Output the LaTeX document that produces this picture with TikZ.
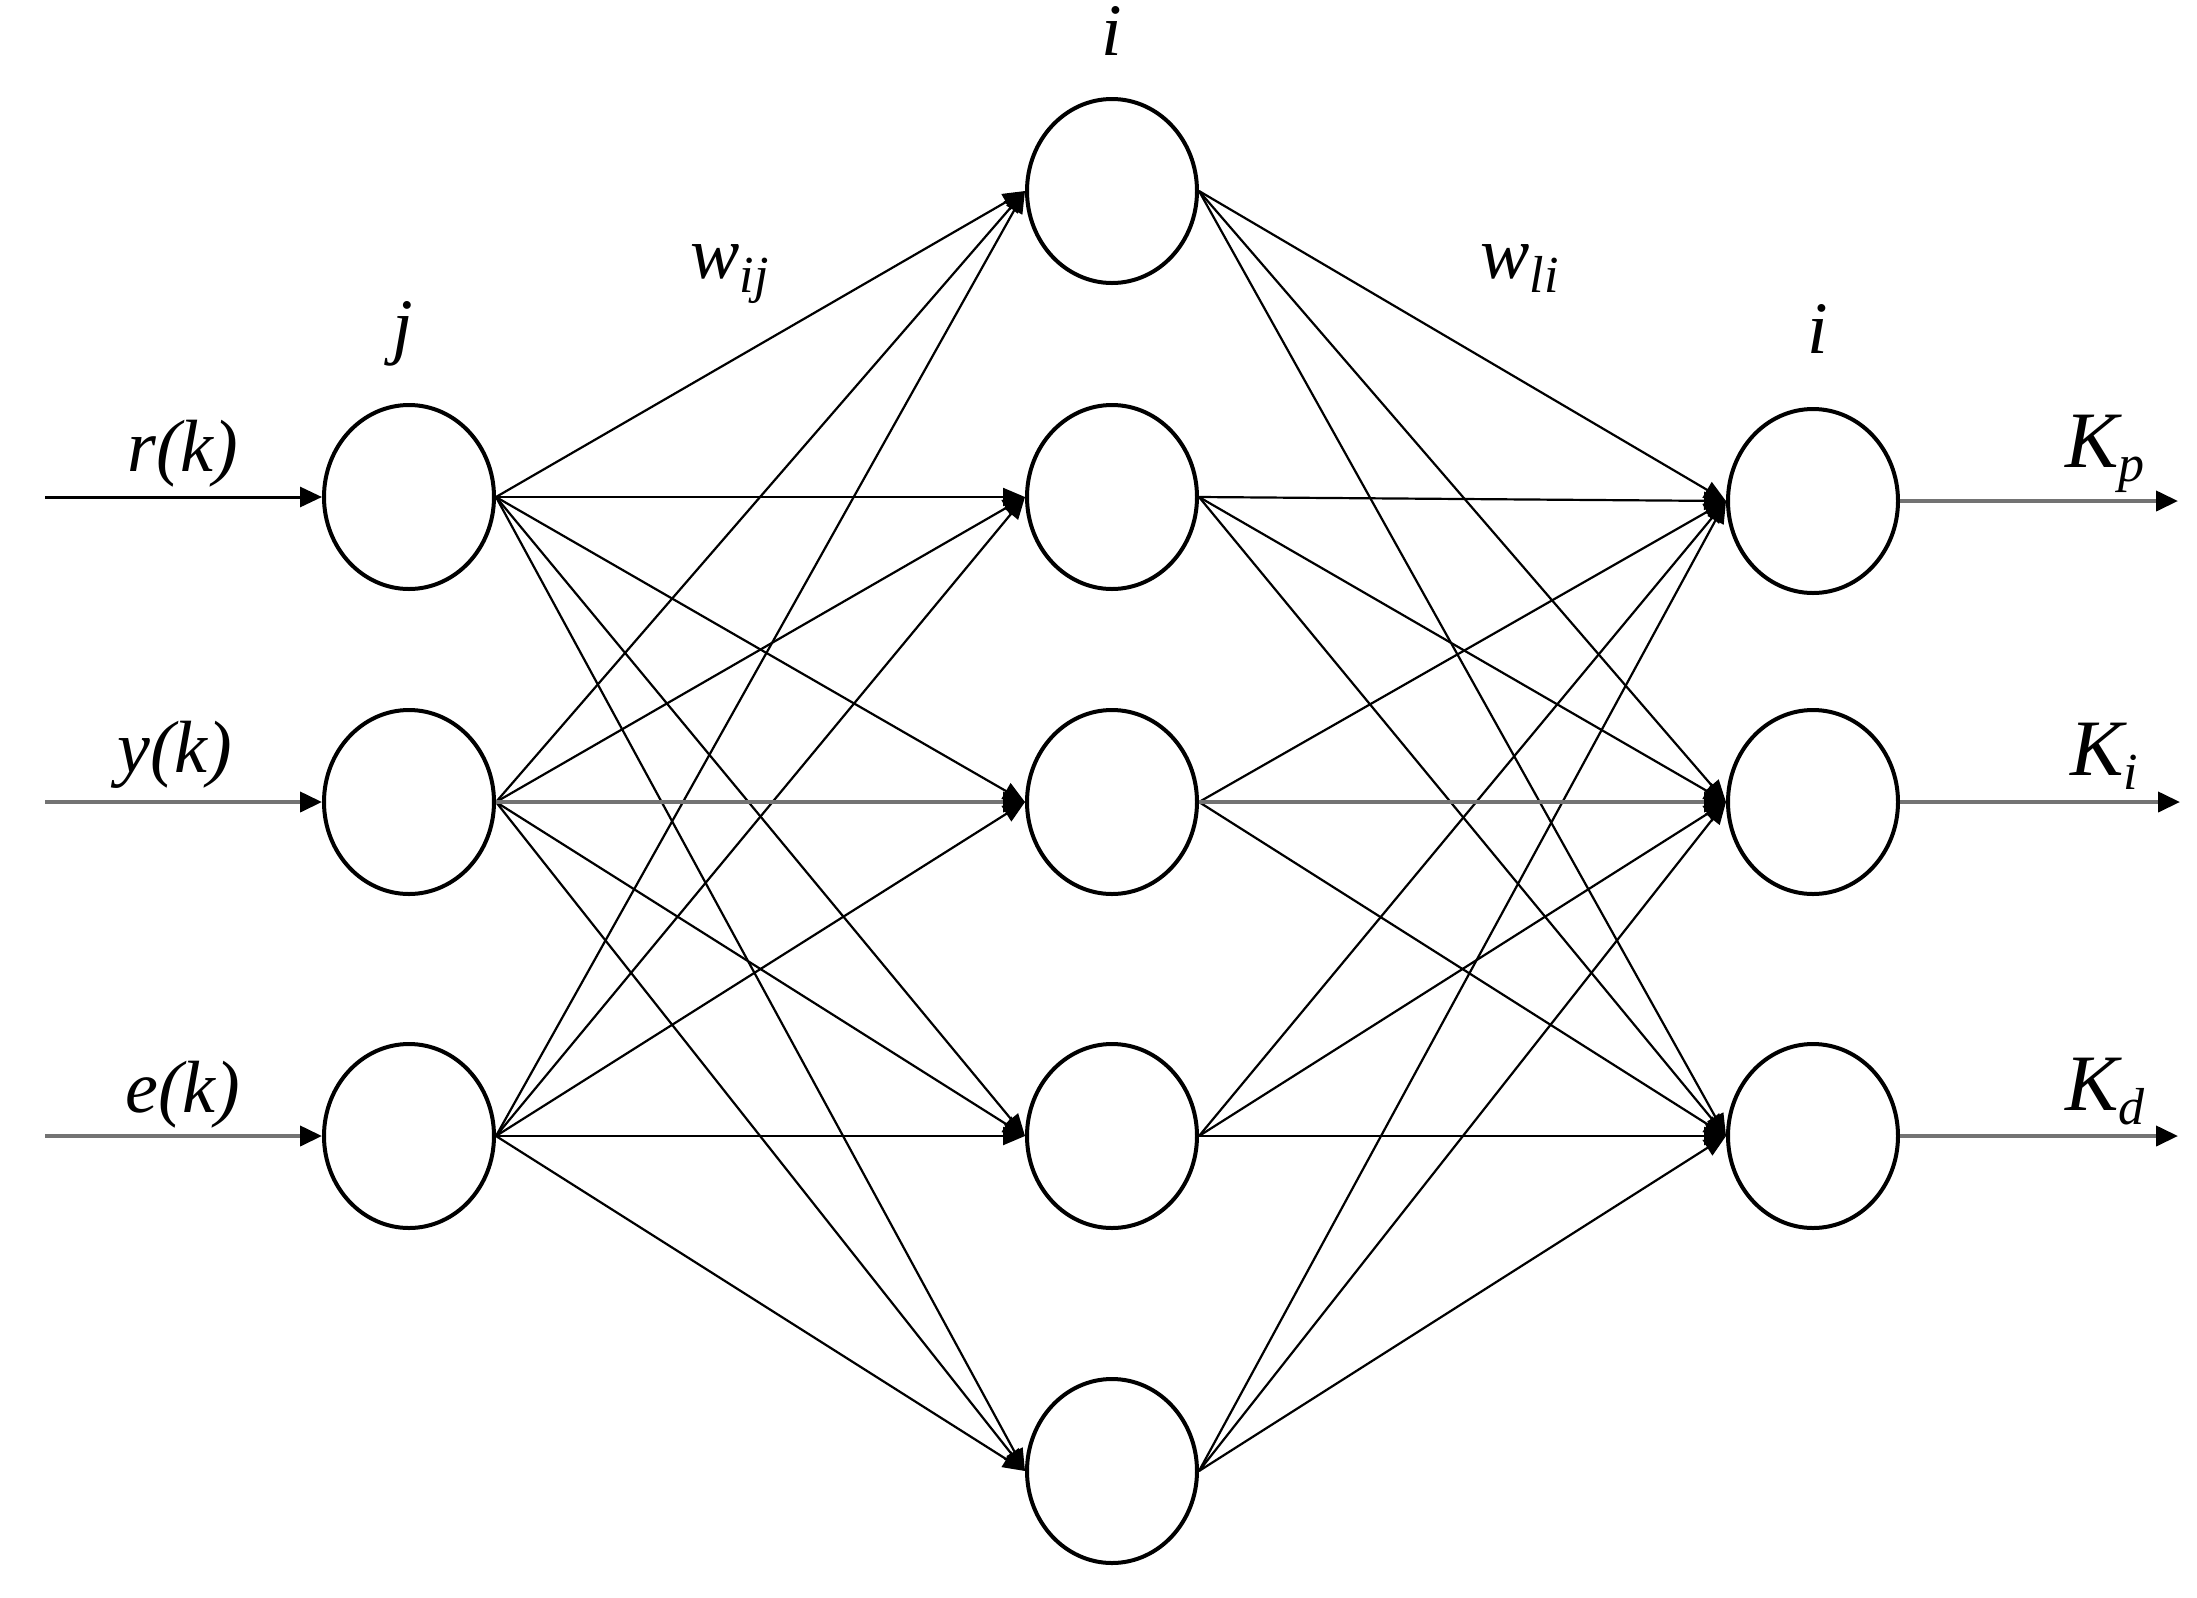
\documentclass[tikz,border=0pt]{standalone}
\usepackage{fontspec}
\setmainfont{Liberation Serif}
\usetikzlibrary{shapes.geometric,arrows.meta}
\newcommand\lowsub[1]{\raisebox{-7pt}{\fontsize{26}{26}\selectfont #1}}
\begin{document}
\begin{tikzpicture}[x=0.5pt,y=-0.5pt,
  neuron/.style={ellipse,draw,line width=2pt,minimum width=85pt,minimum height=92pt,inner sep=0pt},
  conn/.style={line width=1.1pt,-{Triangle[length=11pt,width=9pt]}},
  thickconn/.style={line width=2pt,draw=black!55,-{Triangle[length=11pt,width=10pt,color=black]}},
  inconn/.style={line width=1.5pt,-{Triangle[length=11pt,width=10pt]}},
  lbl/.style={font=\fontsize{37}{40}\selectfont\itshape,inner sep=0pt},
  klbl/.style={font=\fontsize{40}{44}\selectfont\itshape,inner sep=0pt}]
\useasboundingbox[fill=white] (0,0) rectangle (2197,1597);

% input layer
\node[neuron] (j1) at (409,497) {};
\node[neuron] (j2) at (409,802) {};
\node[neuron] (j3) at (409,1136) {};
% hidden layer
\node[neuron] (h1) at (1112,191) {};
\node[neuron] (h2) at (1112,497) {};
\node[neuron] (h3) at (1112,802) {};
\node[neuron] (h4) at (1112,1136) {};
\node[neuron] (h5) at (1112,1471) {};
% output layer
\node[neuron] (o1) at (1813,501) {};
\node[neuron] (o2) at (1813,802) {};
\node[neuron] (o3) at (1813,1136) {};

% input arrows
\coordinate (s1) at (45,497);
\coordinate (s2) at (45,802);
\coordinate (s3) at (45,1136);
\draw[inconn] (s1) -- (j1.west);
\draw[thickconn] (s2) -- (j2.west);
\draw[thickconn] (s3) -- (j3.west);

% output arrows
\coordinate (t1) at (2178,501);
\coordinate (t2) at (2180,802);
\coordinate (t3) at (2178,1136);
\draw[thickconn] (o1.east) -- (t1);
\draw[thickconn] (o2.east) -- (t2);
\draw[thickconn] (o3.east) -- (t3);

% connections
\foreach \a in {j1,j2,j3}
  \foreach \b in {h1,h2,h3,h4,h5}
    \draw[conn] (\a.east) -- (\b.west);
\foreach \a in {h1,h2,h3,h4,h5}
  \foreach \b in {o1,o2,o3}
    \draw[conn] (\a.east) -- (\b.west);
\draw[thickconn] (j2.east) -- (h3.west);
\draw[thickconn] (h3.east) -- (o2.west);

% labels
\node[lbl,anchor=base west] (lr) at (127,471) {r(k)};
\node[lbl,anchor=base west] (ly) at (117,772) {y(k)};
\node[lbl,anchor=base west] (le) at (125,1112) {e(k)};
\node[lbl,anchor=base] (lj) at (403,350) {j};
\node[lbl,anchor=base] (li1) at (1112,55) {i};
\node[lbl,anchor=base] (li2) at (1818,353) {i};
\node[lbl,anchor=base west] (lwij) at (690,278) {w\lowsub{ij}};
\node[lbl,anchor=base west] (lwli) at (1480,278) {w\lowsub{li}};
\node[klbl,anchor=base west] (lkp) at (2065,467) {K\lowsub{p}};
\node[klbl,anchor=base west] (lki) at (2070,775) {K\lowsub{i}};
\node[klbl,anchor=base west] (lkd) at (2065,1110) {K\lowsub{d}};
\end{tikzpicture}
\end{document}
